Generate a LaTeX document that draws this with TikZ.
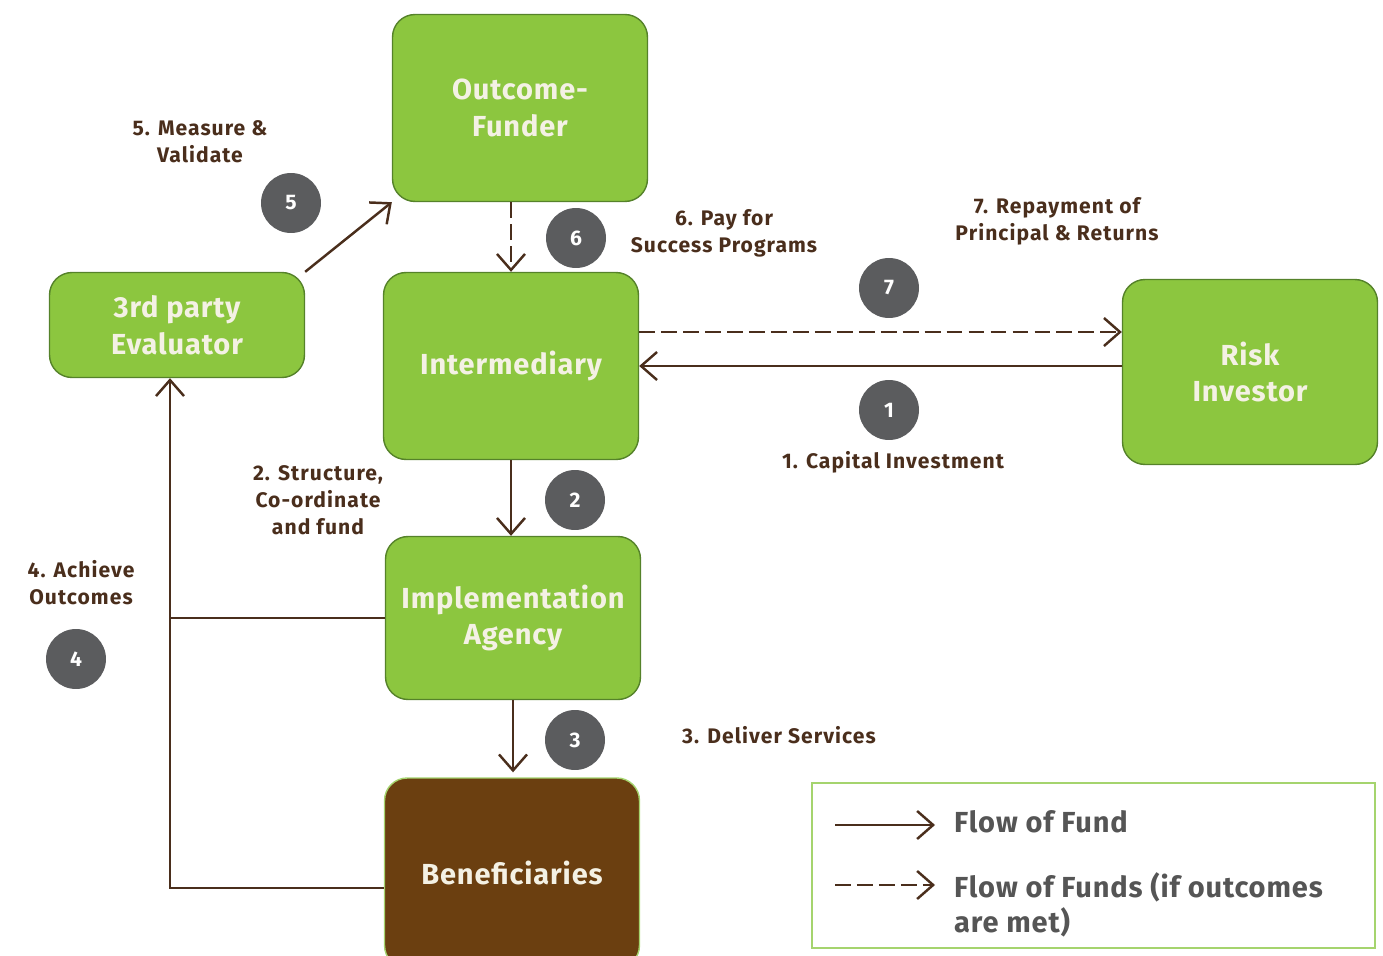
\documentclass[tikz,border=0pt]{standalone}
\usepackage{fontspec}
\setmainfont{Fira Sans}
\usetikzlibrary{arrows.meta,positioning}

\definecolor{leaf}{HTML}{8CC63F}
\definecolor{leafdark}{HTML}{55822A}
\definecolor{leaflight}{HTML}{A5D46E}
\definecolor{soil}{HTML}{6B3F10}
\definecolor{bark}{HTML}{4A2E1C}
\definecolor{stone}{HTML}{5B5C5E}
\definecolor{cream}{HTML}{F4F1E4}
\definecolor{inkgray}{HTML}{555555}

\begin{document}
\begin{tikzpicture}[
        x=0.02cm, y=-0.02cm,
        actor/.style={draw=leafdark, fill=leaf, line width=0.8pt, rounded corners=0.45cm,
            text=cream, font=\fontsize{16.5}{21}\selectfont\bfseries\addfontfeatures{LetterSpace=3},
            align=center, minimum width=5.1cm},
        flow/.style={draw=bark, line width=1.4pt,
            -{Straight Barb[length=0.32cm, width=0.56cm, line width=1.4pt]}},
        maybe/.style={flow, dash pattern=on 9pt off 3.5pt},
        stepnum/.style={circle, fill=stone, text=white, minimum size=1.2cm,
            font=\fontsize{12}{14}\selectfont\bfseries},
        note/.style={text=bark, font=\fontsize{12}{15.3}\selectfont\bfseries\addfontfeatures{LetterSpace=5},
            align=center},
        keytext/.style={text=inkgray, font=\fontsize{16.5}{20}\selectfont\bfseries\addfontfeatures{LetterSpace=3},
            align=left}
    ]
        \useasboundingbox (0,0) rectangle (1383,956);

        % Parties of the scheme
        \node[actor, minimum height=3.74cm] (funder) at (520,108) {Outcome-\\Funder};
        \node[actor, minimum height=3.74cm] (inter) at (511,366) {Intermediary};
        \node[actor, minimum height=3.26cm] (impl) at (513,618) {Implementation\\Agency};
        \node[actor, fill=soil, draw=leaflight, minimum height=3.8cm] (benef) at (512,873) {Beneficiaries};
        \node[actor, minimum height=2.1cm] (eval) at (177,325) {3rd party\\Evaluator};
        \node[actor, minimum height=3.7cm] (risk) at (1250,372) {Risk\\Investor};

        % Numbered steps
        \foreach \n/\x/\y in {1/889/410, 2/575/500, 3/575/740, 4/76/659,
                              5/291/203, 6/576/238, 7/889/288} {
            \node[stepnum] (num-\n) at (\x,\y) {\n};
        }

        % Step captions
        \node[note] (note-1) at (893,462) {1. Capital Investment};
        \node[note] (note-2) at (318,500) {2. Structure,\\Co-ordinate\\and fund};
        \node[note] (note-3) at (779,735) {3. Deliver Services};
        \node[note] (note-4) at (81,583) {4. Achieve\\Outcomes};
        \node[note] (note-5) at (200,142) {5. Measure \&\\Validate};
        \node[note] (note-6) at (724,233) {6. Pay for\\Success Programs};
        \node[note] (note-7) at (1057,221) {7. Repayment of\\Principal \& Returns};

        % Flows between parties
        \draw[maybe] (funder.south -| inter.north) -- (inter.north);
        \draw[flow] (eval.north east) -- (funder.south west);
        \draw[flow] (risk.west |- inter.east) -- (inter.east);
        \coordinate (repay) at ([yshift=0.68cm]inter.east);
        \draw[maybe] (repay) -- (repay -| risk.west);
        \draw[flow] (inter.south) -- (inter.south |- impl.north);
        \coordinate (benef-top) at ([yshift=0.1cm]benef.north);
        \draw[flow] (impl.south) -- (impl.south |- benef-top);
        \coordinate (trunk) at ([xshift=-0.14cm]eval.south);
        \draw[bark, line width=1.4pt] (impl.west) -- (impl.west -| trunk);
        \draw[flow] (benef.west |- 0,888) -| (trunk);

        % Legend
        \node[draw=leaflight, line width=1.4pt, minimum width=11.26cm, minimum height=3.3cm] (legend) at (1093.5,865.5) {};
        \node[keytext, anchor=west] (key-fund) at (948,822) {Flow of Fund};
        \node[keytext, anchor=north west] (key-maybe) at (948,866) {Flow of Funds (if outcomes\\are met)};
        \coordinate (key-a) at (835,825);
        \coordinate (key-b) at (835,885);
        \coordinate (key-end) at (935,825);
        \draw[flow] (key-a) -- (key-end);
        \draw[maybe] (key-b) -- (key-b -| key-end);
    \end{tikzpicture}
\end{document}
